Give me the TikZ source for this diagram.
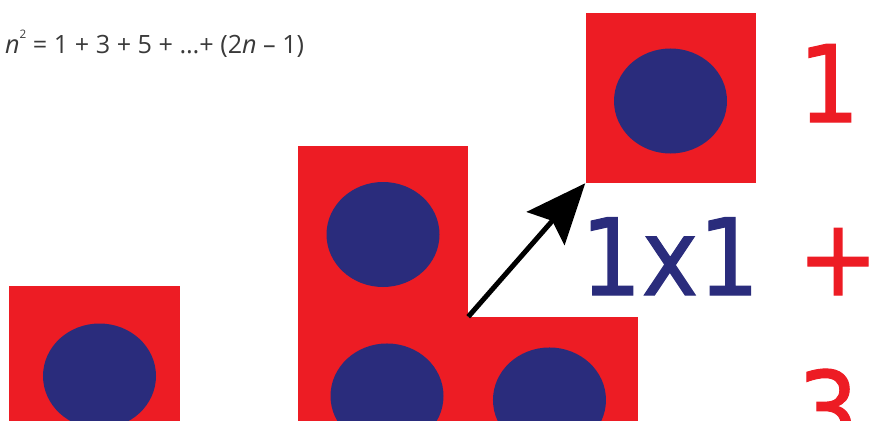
\documentclass[tikz,border=0pt]{standalone}
\usepackage{fontspec}
\setmainfont{Open Sans}
\newfontfamily\bigfont[FakeBold=1]{DejaVu Sans Condensed}
\usepackage{xcolor}
\usepackage{tikz}
\usetikzlibrary{arrows.meta,positioning,shapes.geometric}
\definecolor{cellred}{HTML}{ED1C24}
\definecolor{dotblue}{HTML}{2A2C7C}
\definecolor{formgray}{HTML}{3A3A3A}

\tikzset{
  cell/.style={fill=cellred, draw=none, inner sep=0pt, minimum size=5.1cm},
  dot/.style={ellipse, fill=dotblue, draw=none, inner sep=0pt, minimum width=3.39cm, minimum height=3.15cm},
  bignum/.style={font=\bigfont\fontsize{91}{100}\selectfont, inner sep=0pt, anchor=base},
}

\begin{document}
\begin{tikzpicture}[x=0.03cm, y=-0.03cm]
\useasboundingbox (0,0) rectangle (871,420);

% Formula
\node[anchor=base west, inner sep=0pt, text=formgray, font=\fontsize{21.5}{25}\selectfont] (formula) at (5,53)
  {\textit{n}\raisebox{1.1ex}{\fontsize{10}{10}\selectfont 2} = 1 + 3 + 5 + \dots+ (2\textit{n} -- 1)};

% Single square (left)
\node[cell] (a1) at (94.5,371) {};
\node[dot] (da1) at ([shift={(5,5)}]a1.center) {};

% L-shaped group
\node[cell] (m1) at (383,231.5) {};
\node[cell, below=0pt of m1] (m2) {};
\node[cell, right=0pt of m2] (m3) {};
\node[dot] (dm1) at ([shift={(0,3)}]m1.center) {};
\node[dot] (dm2) at ([shift={(4,-6)}]m2.center) {};
\node[dot] (dm3) at ([shift={(-4,-2)}]m3.center) {};

% Top right square
\node[cell] (t1) at (670.5,98) {};
\node[dot] (dt1) at ([shift={(0,3)}]t1.center) {};

% Arrow from inner corner to square
\draw[-{Stealth[length=1.8cm, width=1.5cm, inset=0.3cm]}, line width=0.15cm] (m2.north east) -- (t1.south west);

% Labels
\node[bignum, text=cellred] (one) at (829,122) {1};
\node[bignum, text=dotblue] (prod) at (670,295) {1x1};
\node[bignum, text=cellred] (plus) at (838,295) {+};
\node[bignum, text=cellred] (three) at (828,448) {3};
\end{tikzpicture}
\end{document}
